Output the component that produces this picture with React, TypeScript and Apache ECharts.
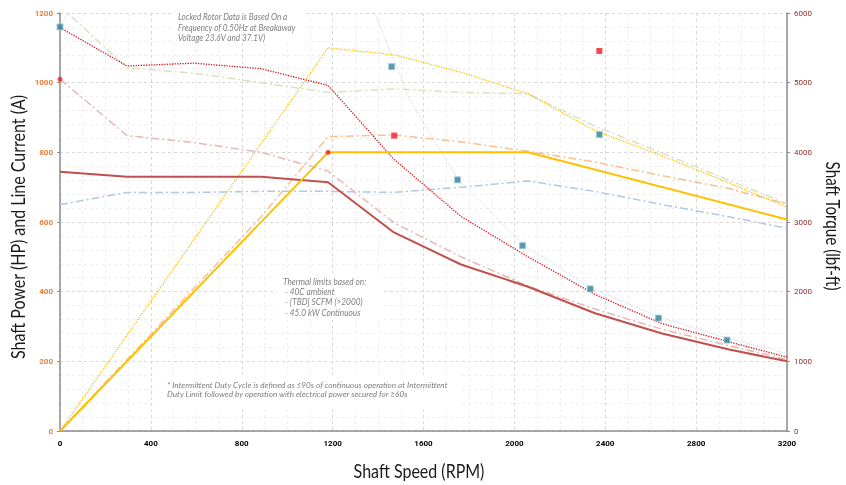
import React, { useEffect, useRef } from "react";
import * as echarts from "echarts";

// Shaft speed (RPM) sample points
const speedsFull = [0, 295, 590, 885, 1180, 1470, 1765, 2060, 2355, 2650, 2945, 3200];
// Torque series (right axis, lbf-ft)
const torqueContinuous = [3720, 3650, 3650, 3650, 3570, 2850, 2390, 2070, 1690, 1400, 1170, 1000];
const torqueIntermittent = [5790, 5240, 5280, 5200, 4960, 3900, 3080, 2500, 1960, 1540, 1280, 1060];
const torqueDashDot = [5050, 4240, 4140, 4000, 3730, 2990, 2500, 2080, 1750, 1460, 1225, 1025];
// Current series (left axis, A)
const currentGreen = [1220, 1043, 1027, 1000, 972, 982, 972, 968, 875, 798, 720, 652];
const currentBlue = [650, 685, 685, 688, 688, 685, 700, 718, 688, 650, 615, 582];
// Power series (left axis, HP)
const powerContSpeeds = [0, 1180, 2060, 3200];
const powerCont = [0, 800, 800, 607];
const powerIntSpeeds = [0, 1180, 1470, 1765, 2060, 2355, 2650, 2945, 3200];
const powerInt = [0, 1100, 1080, 1030, 968, 862, 790, 712, 643];
const powerPeachSpeeds = [0, 885, 1180, 1470, 1765, 2060, 2355, 2650, 2945, 3200];
const powerPeach = [0, 615, 845, 850, 830, 803, 772, 733, 696, 652];
// Locked rotor fit (right axis), null = gap
const lockedSpeeds = [0, 100, 700, 1300, 1540, 1750, 2040, 2336, 2636, 2936, 3200];
const lockedTorque = [5800, 6400, null, 6700, 4750, 3620, 2670, 2060, 1640, 1330, 1115];
// Test points (right axis)
const testSpeeds = [0, 1460, 1750, 2036, 2334, 2634, 2936, 2374];
const testTorque = [5800, 5230, 3605, 2660, 2040, 1620, 1305, 4255];
// Red markers (left axis)
const redSquareSpeeds = [1471, 2374];
const redSquareValues = [848, 1091];
const redDotSpeeds = [0, 1180];
const redDotValues = [1010, 800];

const xTicks = { min: 0, max: 3200, interval: 400 };
const leftTicks = { min: 0, max: 1200, interval: 200 };
const rightTicks = { min: 0, max: 6000, interval: 1000 };

const zip = (xs: number[], ys: (number | null)[]) =>
  xs.map((x, i) => [x, ys[i] === null ? "-" : ys[i]]);

const dashDot = [8, 3, 2, 3];
const plain = (v: number) => String(v);

export default function App() {
  const ref = useRef<HTMLDivElement>(null);
  useEffect(() => {
    if (!ref.current) return;
    const chart = echarts.init(ref.current, undefined, { renderer: "svg" });
    const gridLine = { color: "#D9D9D9", type: [3, 3], width: 1 };
    const minorLine = { color: "#EEEEEE", type: [3, 3], width: 1 };
    const axisLineStyle = { color: "#8C8C8C", width: 1.5 };
    const lineSeries = (name: string, data: any[], color: string, width: number, type: any, yAxisIndex = 0) => ({
      name,
      type: "line",
      data,
      yAxisIndex,
      symbol: "none",
      showSymbol: false,
      clip: true,
      lineStyle: { color, width, type },
      z: 2,
    });
    const annotationStyle = {
      fontFamily: "Lato",
      fontStyle: "italic",
      fill: "#808080",
    };
    chart.setOption({
      animation: false,
      grid: { left: 60, right: 59, top: 13, bottom: 54, outerBoundsMode: "none" },
      xAxis: {
        type: "value",
        ...xTicks,
        axisLine: { show: true, lineStyle: axisLineStyle },
        axisTick: { show: false },
        minorTick: { show: false, splitNumber: 4 },
        splitLine: { show: true, lineStyle: gridLine },
        minorSplitLine: { show: true, lineStyle: minorLine },
        axisLabel: { color: "#000", fontWeight: "bold", fontSize: 8, fontFamily: "Roboto", margin: 8, formatter: plain },
      },
      yAxis: [
        {
          type: "value",
          ...leftTicks,
          position: "left",
          axisLine: { show: true, lineStyle: axisLineStyle },
          axisTick: { show: true, length: 3, lineStyle: { color: "#8C8C8C" } },
          minorTick: { show: false, splitNumber: 5 },
          splitLine: { show: true, lineStyle: gridLine },
          minorSplitLine: { show: true, lineStyle: minorLine },
          axisLabel: { color: "#EE7D31", fontWeight: "bold", fontSize: 8, fontFamily: "Roboto", margin: 7, formatter: plain },
        },
        {
          type: "value",
          ...rightTicks,
          position: "right",
          axisLine: { show: true, lineStyle: axisLineStyle },
          axisTick: { show: true, length: 3, lineStyle: { color: "#8C8C8C" } },
          splitLine: { show: false },
          axisLabel: { color: "#8E2F2C", fontSize: 8, fontFamily: "Roboto", margin: 7, formatter: plain },
        },
      ],
      series: [
        lineSeries("Current (blue)", zip(speedsFull, currentBlue), "#B3C8E2", 1.5, dashDot),
        lineSeries("Current (green)", zip(speedsFull, currentGreen), "#D7E4BD", 1.5, dashDot),
        lineSeries("Power (peach)", zip(powerPeachSpeeds, powerPeach), "#FAC090", 1.5, dashDot),
        lineSeries("Torque (pink)", zip(speedsFull, torqueDashDot), "#E6B9B8", 1.5, dashDot, 1),
        lineSeries("Locked rotor fit", zip(lockedSpeeds, lockedTorque), "#C9D7E8", 1, "dotted", 1),
        lineSeries("Intermittent torque", zip(speedsFull, torqueIntermittent), "#D9141A", 1.3, "dotted", 1),
        lineSeries("Intermittent power", zip(powerIntSpeeds, powerInt), "#FFC000", 1.3, "dotted"),
        lineSeries("Continuous torque", zip(speedsFull, torqueContinuous), "#C0504D", 2, "solid", 1),
        lineSeries("Continuous power", zip(powerContSpeeds, powerCont), "#FFC000", 2, "solid"),
        {
          name: "Test data",
          type: "scatter",
          yAxisIndex: 1,
          data: zip(testSpeeds, testTorque),
          symbol: "rect",
          symbolSize: 6,
          itemStyle: { color: "#2F7F99", borderColor: "#9CC8D8", borderWidth: 1 },
          z: 4,
        },
        {
          name: "Red squares",
          type: "scatter",
          data: zip(redSquareSpeeds, redSquareValues),
          symbol: "rect",
          symbolSize: 6,
          itemStyle: { color: "#EE1C24" },
          z: 4,
        },
        {
          name: "Red dots",
          type: "scatter",
          data: zip(redDotSpeeds, redDotValues),
          symbol: "circle",
          symbolSize: 5,
          itemStyle: { color: "#EE1C24" },
          z: 4,
        },
      ],
      graphic: [
        { type: "rect", shape: { x: 172, y: 7, width: 134, height: 36 }, style: { fill: "#fff" }, z: 1 },
        {
          type: "text",
          x: 178,
          y: 11.3,
          scaleX: 0.9,
          z: 5,
          style: {
            ...annotationStyle,
            text: "Locked Rotor Data is Based On a\nFrequency of 0.50Hz at Breakaway\nVoltage 23.6V and 37.1V)",
            fontSize: 9,
            lineHeight: 10.8,
          },
        },
        { type: "rect", shape: { x: 277, y: 273, width: 106, height: 47 }, style: { fill: "#fff" }, z: 1 },
        {
          type: "text",
          x: 283,
          y: 275.8,
          scaleX: 0.92,
          z: 5,
          style: {
            ...annotationStyle,
            text: "Thermal limits based on:\n - 40C ambient\n - [TBD] SCFM (>2000)\n - 45.0 kW Continuous",
            fontSize: 9,
            lineHeight: 10.4,
          },
        },
        { type: "rect", shape: { x: 155, y: 375, width: 307, height: 32 }, style: { fill: "#fff" }, z: 1 },
        {
          type: "text",
          x: 167,
          y: 380,
          scaleX: 0.96,
          z: 5,
          style: {
            ...annotationStyle,
            text: "* Intermittent Duty Cycle is defined as \u226490s of continuous operation at Intermittent\nDuty Limit followed by operation with electrical power secured for \u226560s",
            fontSize: 8.5,
            lineHeight: 9.6,
          },
        },
        {
          type: "text",
          x: 17,
          y: 227,
          rotation: Math.PI / 2,
          scaleX: 0.8,
          z: 5,
          style: {
            text: "Shaft Power (HP) and Line Current (A)",
            fontFamily: "Lato",
            fontSize: 20,
            fill: "#1A1A1A",
            textAlign: "center",
            textVerticalAlign: "middle",
          },
        },
        {
          type: "text",
          x: 833,
          y: 226,
          rotation: -Math.PI / 2,
          scaleX: 0.8,
          z: 5,
          style: {
            text: "Shaft Torque (lbf-ft)",
            fontFamily: "Lato",
            fontSize: 19,
            fill: "#1A1A1A",
            textAlign: "center",
            textVerticalAlign: "middle",
          },
        },
        {
          type: "text",
          x: 419,
          y: 470,
          scaleX: 0.8,
          z: 5,
          style: {
            text: "Shaft Speed (RPM)",
            fontFamily: "Lato",
            fontSize: 20,
            fill: "#1A1A1A",
            textAlign: "center",
            textVerticalAlign: "middle",
          },
        },
      ],
    });
    return () => chart.dispose();
  }, []);
  return <div ref={ref} style={{ position: "fixed", left: 0, top: 0, width: 846, height: 485 }} />;
}
